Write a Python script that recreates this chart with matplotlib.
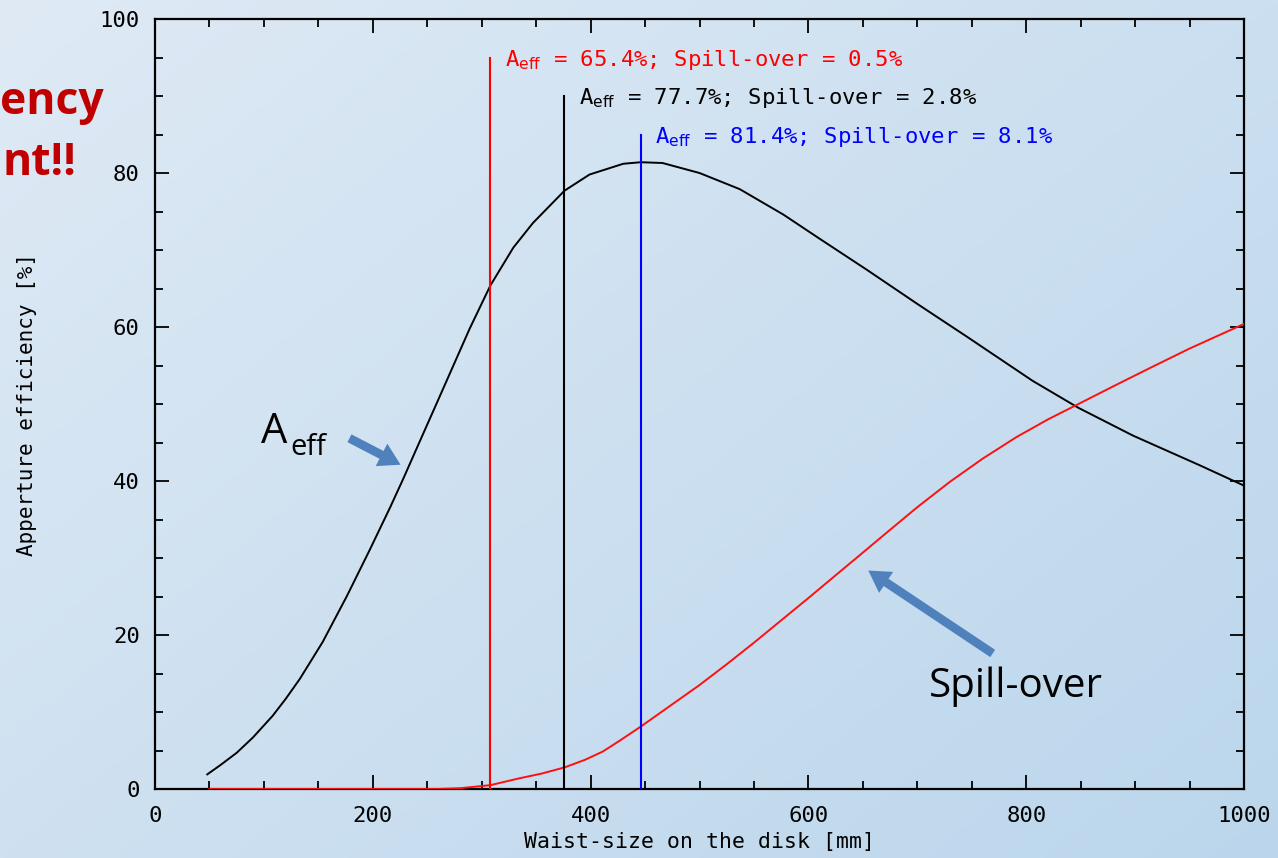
import numpy as np
import matplotlib.pyplot as plt
from matplotlib.patches import FancyArrowPatch
from matplotlib.ticker import MultipleLocator

# Aperture efficiency curve (black)
waist_aeff = [48, 60, 75, 90, 108, 120, 133, 154, 176, 197, 216, 228, 243, 259, 274, 289,
              308, 329, 347, 376, 399, 430, 446, 466, 500, 537, 577, 611, 654, 700, 746,
              806, 848, 898, 960, 1000]
aeff = [1.9, 3.1, 4.7, 6.7, 9.5, 11.7, 14.3, 19.1, 25.0, 31.0, 36.6, 40.3, 45.1, 50.2, 55.0,
        59.8, 65.4, 70.3, 73.5, 77.7, 79.8, 81.2, 81.4, 81.3, 80.0, 77.9, 74.6, 71.4, 67.4,
        63.0, 58.7, 53.0, 49.5, 45.9, 42.0, 39.4]

# Spill-over curve (red)
waist_spill = [50, 260, 280, 294, 308, 320, 335, 355, 376, 395, 411, 427, 446, 470, 500,
               525, 550, 575, 600, 622, 650, 666, 700, 730, 760, 791, 820, 848, 880, 914,
               950, 1000]
spill = [0.0, 0.0, 0.1, 0.3, 0.5, 0.9, 1.4, 2.0, 2.8, 3.8, 4.85, 6.3, 8.1, 10.5, 13.5,
         16.2, 19.0, 21.9, 24.8, 27.4, 30.7, 32.6, 36.6, 39.9, 42.9, 45.7, 48.0, 50.0,
         52.3, 54.7, 57.2, 60.4]

# marked waist sizes
mark_x = [308, 376, 446]
mark_top = [95, 90, 85]
mark_colors = ['#ff0000', '#000000', '#0000ff']
mark_labels = [r'A$_{\rm eff}$ = 65.4%; Spill-over = 0.5%',
               r'A$_{\rm eff}$ = 77.7%; Spill-over = 2.8%',
               r'A$_{\rm eff}$ = 81.4%; Spill-over = 8.1%']

W, H = 1278, 858
fig = plt.figure(figsize=(W / 100, H / 100), dpi=100)

# slide background gradient
bg = fig.add_axes([0, 0, 1, 1])
yy, xx = np.mgrid[0:1:200j, 0:1:300j]
t = 0.55 * xx + 0.45 * yy
c0 = np.array([0xdf, 0xea, 0xf5]) / 255
c1 = np.array([0xbb, 0xd6, 0xec]) / 255
img = c0[None, None, :] * (1 - t[..., None]) + c1[None, None, :] * t[..., None]
bg.imshow(img, aspect='auto', extent=[0, 1, 0, 1], origin='upper')
bg.axis('off')

mono = 'DejaVu Sans Mono'

ax = fig.add_axes([155 / W, 1 - 789 / H, (1244 - 155) / W, (789 - 19) / H])
ax.patch.set_alpha(0)

ax.plot(waist_aeff, aeff, color='black', lw=1.4, zorder=3, solid_joinstyle='round')
ax.plot(waist_spill, spill, color='#ff1010', lw=1.4, zorder=3, solid_joinstyle='round')

for x, top, c, lab in zip(mark_x, mark_top, mark_colors, mark_labels):
    ax.plot([x, x], [0, top], color=c, lw=1.5, zorder=4)
    ax.text(x + 13.5, top - 1.1, lab, color=c, fontsize=16, family=mono,
            va='baseline', ha='left')

ax.set_xlim(0, 1000)
ax.set_ylim(0, 100)
ax.xaxis.set_major_locator(MultipleLocator(200))
ax.xaxis.set_minor_locator(MultipleLocator(50))
ax.yaxis.set_major_locator(MultipleLocator(20))
ax.yaxis.set_minor_locator(MultipleLocator(5))
ax.tick_params(which='both', direction='in', top=True, right=True, width=1.3,
               labelsize=16, colors='black')
ax.tick_params(axis='x', pad=12)
ax.tick_params(axis='y', pad=11)
ax.tick_params(which='major', length=10)
ax.tick_params(which='minor', length=5.5)
for lab in ax.get_xticklabels() + ax.get_yticklabels():
    lab.set_family(mono)
for s in ax.spines.values():
    s.set_linewidth(1.6)

ax.set_xlabel('Waist-size on the disk [mm]', fontsize=15.5, family=mono)
ax.xaxis.set_label_coords(0.5, (789 - 832) / 770)
ax.set_ylabel('Apperture efficiency [%]', fontsize=15, family=mono)
ax.yaxis.set_label_coords((37 - 155) / 1089, 0.5)

# slide annotations
def fx(px):
    return px / W

def fy(py):
    return 1 - py / H

fig.text(fx(261), fy(443), 'A', fontsize=30, family='Open Sans', va='baseline', ha='left')
fig.text(fx(290), fy(455), 'eff', fontsize=21, family='Open Sans', va='baseline', ha='left')
fig.text(fx(1016), fy(697), 'Spill-over', fontsize=29, family='Open Sans',
         va='baseline', ha='center')

arrow_kw = dict(arrowstyle='simple,head_length=1.1,head_width=1.3,tail_width=0.45',
                color='#4f81bd', lw=0)
fig.add_artist(FancyArrowPatch((fx(347), fy(437)), (fx(403), fy(466)),
                               transform=fig.transFigure, mutation_scale=14, **arrow_kw))
fig.add_artist(FancyArrowPatch((fx(995), fy(655)), (fx(866), fy(569)),
                               transform=fig.transFigure, mutation_scale=14, **arrow_kw))

fig.text(fx(104), fy(114), 'ency', fontsize=32, fontweight='bold', color='#c00000',
         family='Open Sans', ha='right', va='baseline')
fig.text(fx(77), fy(175), 'nt!!', fontsize=32, fontweight='bold', color='#c00000',
         family='Open Sans', ha='right', va='baseline')

fig.savefig('out.png', dpi=100)
